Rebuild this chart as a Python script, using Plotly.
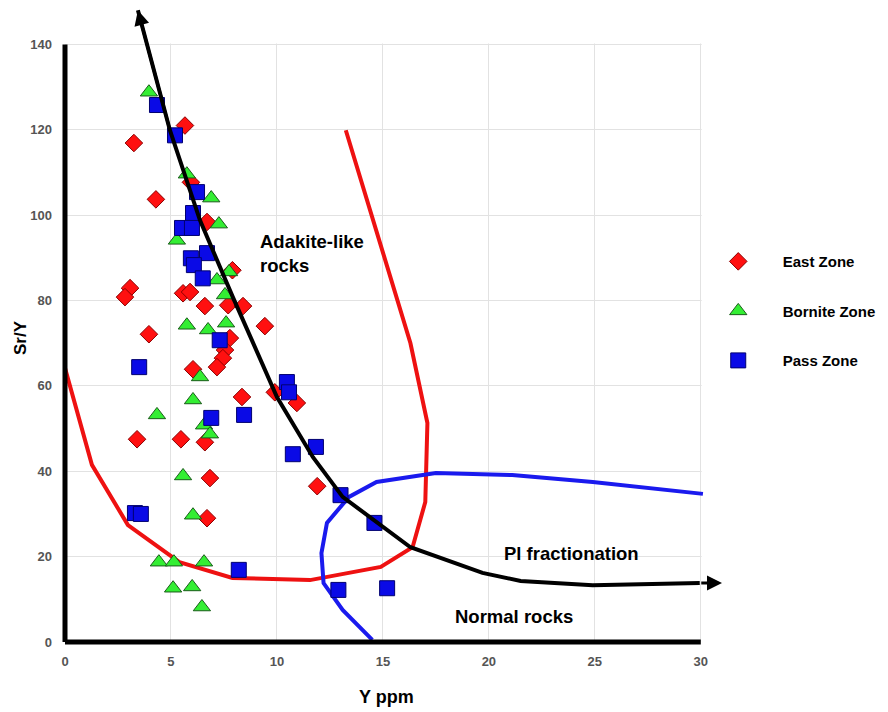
import plotly.graph_objects as go

# ---- data ----
east_x = [3.25, 5.66, 4.29, 5.94, 6.7, 7.9, 3.07, 2.83, 5.57, 5.9, 6.6, 7.7, 8.4, 9.43, 3.96, 7.78,
          7.55, 7.45, 7.17, 6.04, 8.35, 9.9, 10.94, 3.4, 5.47, 6.6, 6.84, 6.7, 11.9]
east_y = [116.9, 121.0, 103.7, 107.7, 98.4, 87.1, 82.9, 80.8, 81.7, 82.0, 78.7, 78.9, 78.7, 74.0, 72.1, 71.2,
          68.4, 66.5, 64.4, 63.9, 57.4, 58.5, 56.0, 47.5, 47.5, 46.8, 38.4, 29.0, 36.5]

born_x = [3.96, 5.75, 6.9, 7.26, 5.28, 7.74, 7.17, 7.55, 5.75, 6.75, 7.6, 6.37, 6.04, 4.34, 6.56, 6.84,
          5.57, 6.04, 4.43, 5.14, 6.56, 5.1, 6.0, 6.46]
born_y = [128.8, 109.6, 104.0, 97.9, 94.1, 86.7, 84.8, 81.3, 74.2, 73.1, 74.7, 62.1, 56.7, 53.2, 50.8, 48.7,
          38.9, 29.7, 18.7, 18.7, 18.7, 12.6, 12.9, 8.2]

pass_x = [4.34, 5.19, 6.23, 6.04, 5.52, 5.99, 6.7, 5.94, 6.08, 6.5, 7.3, 3.5, 6.9, 8.45, 10.47, 10.57,
          10.75, 11.84, 13.0, 14.6, 3.3, 3.58, 8.2, 12.9, 15.2]
pass_y = [125.8, 118.7, 105.4, 100.5, 97.0, 97.0, 91.1, 89.9, 88.3, 85.2, 70.7, 64.4, 52.5, 53.2, 60.9, 58.5,
          44.0, 45.7, 34.4, 27.9, 30.2, 30.0, 16.9, 12.2, 12.6]

# trend / field boundary curves
trend_x = [3.44, 4.95, 6.37, 7.92, 10.0, 11.7, 13.1, 15.0, 16.3, 19.7, 21.5, 24.9, 29.95]
trend_y = [148.0, 119.9, 98.8, 80.8, 57.4, 43.3, 34.0, 26.9, 22.2, 16.2, 14.3, 13.3, 13.8]
arrow_end_x = 31.0
arrow_end_y = 13.8

adakite_x = [13.25, 14.4, 16.3, 17.1, 17.0, 16.4, 14.9, 11.56, 7.9, 5.4, 2.97, 1.27, 0.0]
adakite_y = [119.9, 101.2, 70.0, 51.3, 32.8, 22.2, 17.6, 14.5, 15.0, 18.7, 27.4, 41.5, 64.2]

normal_x = [14.5, 13.1, 12.2, 12.1, 12.36, 13.4, 14.7, 17.5, 21.1, 24.9, 30.1]
normal_y = [0.5, 7.5, 13.8, 20.8, 27.9, 34.0, 37.5, 39.6, 39.1, 37.5, 34.7]

x_ticks = [0, 5, 10, 15, 20, 25, 30]
y_ticks = [0, 20, 40, 60, 80, 100, 120, 140]

X_MAX = 31
Y_MAX = 149

fig = go.Figure()

fig.add_trace(go.Scatter(x=adakite_x, y=adakite_y, mode="lines",
                         line=dict(color="#ee1111", width=4), showlegend=False, hoverinfo="skip"))
fig.add_trace(go.Scatter(x=normal_x, y=normal_y, mode="lines",
                         line=dict(color="#1a1aee", width=4), showlegend=False, hoverinfo="skip"))

fig.add_trace(go.Scatter(x=east_x, y=east_y, mode="markers", name="East Zone", legendgroup="a",
                         marker=dict(symbol="diamond", size=13.5, color="#ff1010",
                                     line=dict(color="#8b0000", width=1))))
fig.add_trace(go.Scatter(x=born_x, y=born_y, mode="markers", name="Bornite Zone", legendgroup="b",
                         marker=dict(symbol="triangle-up", size=15, color="#33ee33",
                                     line=dict(color="#1a5c1a", width=1))))
fig.add_trace(go.Scatter(x=pass_x, y=pass_y, mode="markers", name="Pass Zone", legendgroup="c",
                         marker=dict(symbol="square", size=15, color="#0a0ae6",
                                     line=dict(color="#000070", width=1))))

fig.add_trace(go.Scatter(x=trend_x, y=trend_y, mode="lines",
                         line=dict(color="black", width=4), showlegend=False, hoverinfo="skip"))

# arrowheads
fig.add_annotation(x=trend_x[0], y=trend_y[0], ax=trend_x[1], ay=trend_y[1], xref="x", yref="y",
                   axref="x", ayref="y", showarrow=True, arrowhead=2, arrowsize=1, arrowwidth=3,
                   arrowcolor="black", text="")
fig.add_annotation(x=arrow_end_x, y=arrow_end_y, ax=trend_x[-1], ay=trend_y[-1], xref="x", yref="y",
                   axref="x", ayref="y", showarrow=True, arrowhead=2, arrowsize=1, arrowwidth=3,
                   arrowcolor="black", text="")

lab_font = dict(family="Liberation Sans, Arial", size=18.5, color="black")
fig.add_annotation(x=9.1, y=91.0, xref="x", yref="y", text="<b>Adakite-like<br>rocks</b>",
                   showarrow=False, xanchor="left", yanchor="middle", align="left", font=lab_font)
fig.add_annotation(x=20.6, y=20.8, xref="x", yref="y", text="<b>Pl fractionation</b>",
                   showarrow=False, xanchor="left", yanchor="middle", font=lab_font)
fig.add_annotation(x=18.3, y=5.9, xref="x", yref="y", text="<b>Normal rocks</b>",
                   showarrow=False, xanchor="left", yanchor="middle", font=lab_font)

# axis titles
title_font = dict(family="Liberation Sans, Arial", size=18, color="black")
fig.add_annotation(x=(386 - 65) / 657, y=(642 - 697) / 636, xref="paper", yref="paper",
                   text="<b>Y ppm</b>", showarrow=False, xanchor="center", yanchor="middle",
                   font=title_font)
fig.add_annotation(x=(20 - 65) / 657, y=(642 - 338) / 636, xref="paper", yref="paper",
                   text="<b>Sr/Y</b>", textangle=-90, showarrow=False, xanchor="center",
                   yanchor="middle", font=dict(family="Liberation Sans, Arial", size=17, color="black"))

# mask gridlines beyond the labelled span (x>30, y>140), under the traces
fig.add_shape(type="rect", x0=30.04, x1=X_MAX, y0=0, y1=Y_MAX, xref="x", yref="y",
              fillcolor="white", line=dict(width=0), layer="between")
fig.add_shape(type="rect", x0=0, x1=X_MAX, y0=140.2, y1=Y_MAX, xref="x", yref="y",
              fillcolor="white", line=dict(width=0), layer="between")

# axis lines (drawn only over the labelled span 0-30 / 0-140)
fig.add_shape(type="line", x0=0, x1=30 / X_MAX, y0=0, y1=0, xref="paper", yref="paper",
              line=dict(color="black", width=5), layer="above")
fig.add_shape(type="line", x0=0, x1=0, y0=0, y1=140 / Y_MAX, xref="paper", yref="paper",
              line=dict(color="black", width=5), layer="above")

tick_font = dict(family="Liberation Sans, Arial", size=13, color="#555555", weight="bold")
fig.update_xaxes(range=[0, X_MAX], tickvals=x_ticks, ticktext=[str(v) for v in x_ticks],
                 showgrid=True, gridcolor="#e2e2e2", gridwidth=1, zeroline=False, showline=False,
                 tickfont=tick_font, ticks="", ticklabelstandoff=10, automargin=False)
fig.update_yaxes(range=[0, Y_MAX], tickvals=y_ticks, ticktext=[str(v) for v in y_ticks],
                 showgrid=True, gridcolor="#e2e2e2", gridwidth=1, zeroline=False, showline=False,
                 tickfont=tick_font, ticks="", ticklabelstandoff=12, automargin=False)

fig.update_layout(
    width=888, height=712,
    margin=dict(l=65, r=166, t=6, b=70, autoexpand=False),
    plot_bgcolor="white", paper_bgcolor="white",
    legend=dict(x=0.957, y=0.624, xanchor="left", yanchor="top", bgcolor="rgba(0,0,0,0)",
                font=dict(family="Liberation Sans, Arial", size=15, color="black", weight="bold"),
                tracegroupgap=27, itemwidth=79),
)

fig.write_html("out.html", config={"displayModeBar": False},
               post_script="document.body.style.margin='0px';document.body.style.overflow='hidden';")
